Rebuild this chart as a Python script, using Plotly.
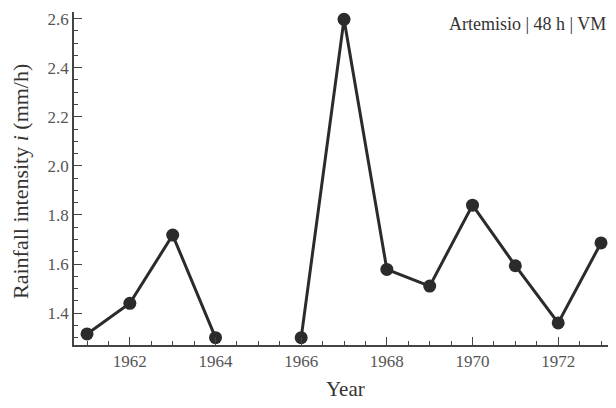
import plotly.graph_objects as go

years = [1961, 1962, 1963, 1964, 1965, 1966, 1967, 1968, 1969, 1970, 1971, 1972, 1973]
intensity = [1.315, 1.44, 1.718, 1.30, None, 1.30, 2.597, 1.578, 1.51, 1.84, 1.593, 1.36, 1.686]
x_ticks = [1962, 1964, 1966, 1968, 1970, 1972]
y_ticks = [1.4, 1.6, 1.8, 2.0, 2.2, 2.4, 2.6]

dark = "#2b2b2b"
gray = "#555555"
font_family = "Liberation Serif"

fig = go.Figure()
fig.add_trace(go.Scatter(
    x=years, y=intensity, mode="lines+markers",
    connectgaps=False,
    line=dict(color=dark, width=3),
    marker=dict(color=dark, size=13),
    showlegend=False,
))

fig.update_layout(
    width=600, height=392,
    margin=dict(l=66, r=0, t=4, b=55),
    paper_bgcolor="white", plot_bgcolor="white",
    font=dict(family=font_family, color=gray, size=17),
    xaxis=dict(
        range=[1960.696, 1973.163],
        tickvals=x_ticks, ticktext=[str(v) for v in x_ticks],
        ticks="inside", ticklen=8, tickwidth=1.3, tickcolor="#444",
        minor=dict(dtick=0.5, tick0=1960, ticks="inside", ticklen=4, tickwidth=1.2, tickcolor="#444"),
        showline=True, linecolor="#444", linewidth=1.5,
        showgrid=False, zeroline=False,
        tickfont=dict(size=17, color=gray),
    ),
    yaxis=dict(
        range=[1.27, 2.627],
        tickvals=y_ticks, ticktext=[f"{v:.1f}" for v in y_ticks],
        ticks="inside", ticklen=8, tickwidth=1.3, tickcolor="#444",
        minor=dict(dtick=0.05, tick0=1.0, ticks="inside", ticklen=4, tickwidth=1.2, tickcolor="#444"),
        showline=True, linecolor="#444", linewidth=1.5,
        showgrid=False, zeroline=False,
        tickfont=dict(size=17, color=gray),
    ),
    annotations=[
        dict(
            text="Artemisio | 48 h | VM", xref="paper", yref="paper",
            x=1.0, y=1.0, xanchor="right", yanchor="top", showarrow=False,
            font=dict(size=18, color="#333", family=font_family),
        ),
        dict(
            text="Rainfall intensity <i>i</i> (mm/h)", xref="paper", yref="paper",
            x=-0.099, y=0.49, xanchor="center", yanchor="middle", textangle=-90,
            showarrow=False, font=dict(size=22, color="#333", family=font_family),
        ),
        dict(
            text="Year", xref="paper", yref="paper",
            x=0.5075, y=-0.132, xanchor="center", yanchor="middle",
            showarrow=False, font=dict(size=21, color="#333", family=font_family),
        ),
    ],
)

fig.write_html("out.html")
